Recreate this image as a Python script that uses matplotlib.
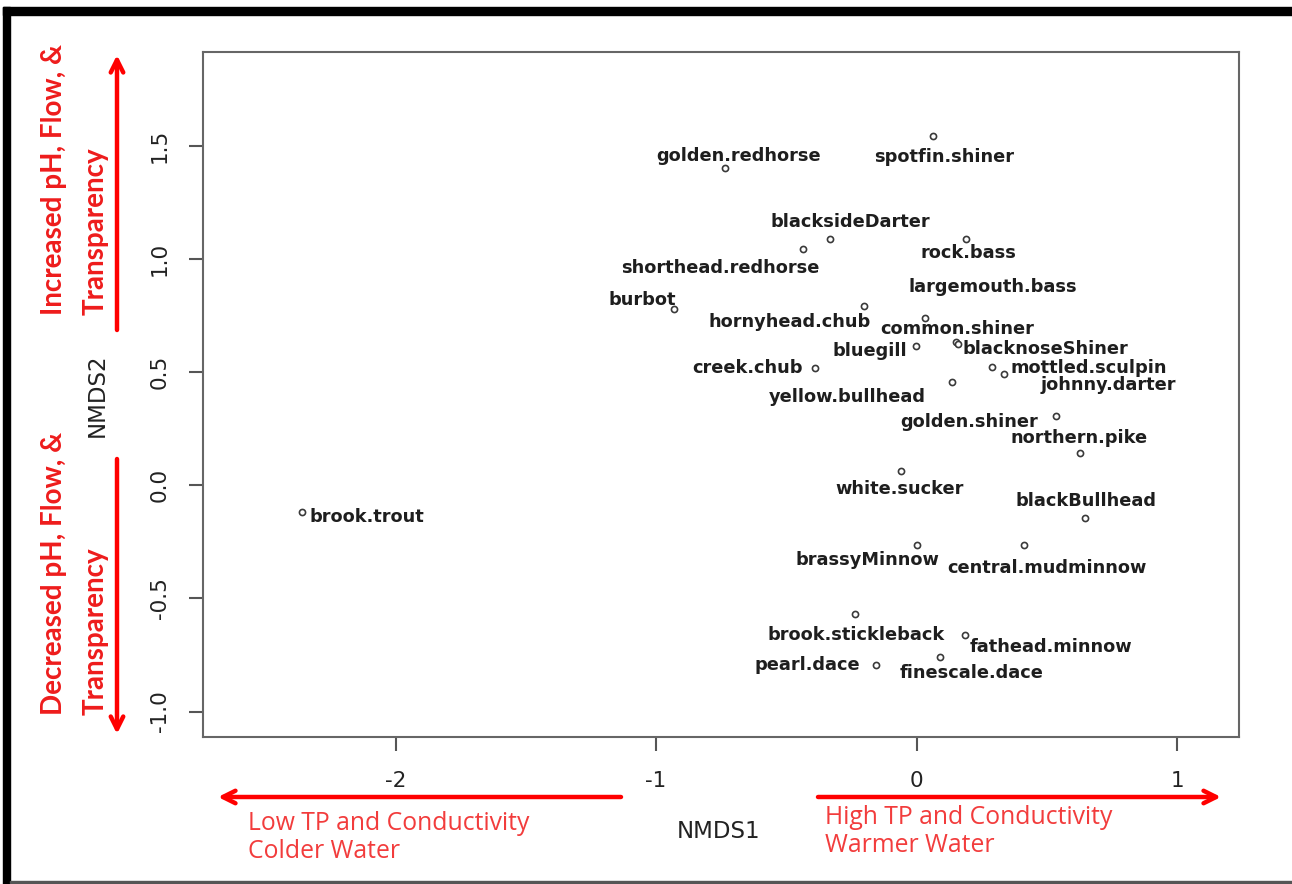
import matplotlib
matplotlib.use("Agg")
import matplotlib.pyplot as plt
from matplotlib.patches import Rectangle

# NMDS species scores
species = [
    "golden.redhorse", "spotfin.shiner", "blacksideDarter", "shorthead.redhorse",
    "rock.bass", "largemouth.bass", "burbot", "hornyhead.chub", "common.shiner",
    "blacknoseShiner", "bluegill", "creek.chub", "mottled.sculpin", "johnny.darter",
    "yellow.bullhead", "golden.shiner", "northern.pike", "white.sucker",
    "blackBullhead", "brassyMinnow", "central.mudminnow", "brook.stickleback",
    "fathead.minnow", "finescale.dace", "pearl.dace", "brook.trout",
]
nmds1 = [-0.735, 0.064, -0.334, -0.437, 0.191, 0.033, -0.932, -0.203, 0.152,
         0.160, -0.002, -0.388, 0.289, 0.335, 0.137, 0.535, 0.628, -0.058,
         0.645, 0.003, 0.413, -0.236, 0.186, 0.089, -0.156, -2.360]
nmds2 = [1.403, 1.546, 1.087, 1.044, 1.087, 0.739, 0.780, 0.794, 0.633,
         0.626, 0.615, 0.520, 0.523, 0.493, 0.456, 0.305, 0.144, 0.062,
         -0.143, -0.264, -0.264, -0.570, -0.663, -0.758, -0.796, -0.118]

x_ticks = [-2, -1, 0, 1]
x_tick_labels = ["-2", "-1", "0", "1"]
y_ticks = [-1.0, -0.5, 0.0, 0.5, 1.0, 1.5]
y_tick_labels = ["-1.0", "-0.5", "0.0", "0.5", "1.0", "1.5"]

# label placement around each point (pixels, y up)
label_offsets = {
    "golden.redhorse": (13, 12), "spotfin.shiner": (11, -21),
    "blacksideDarter": (21, 17), "shorthead.redhorse": (-82, -19),
    "rock.bass": (2, -14), "largemouth.bass": (68, 31), "burbot": (-32, 9),
    "hornyhead.chub": (-74, -16), "common.shiner": (1, 13),
    "blacknoseShiner": (87, -5), "bluegill": (-46, -5), "creek.chub": (-68, 0),
    "mottled.sculpin": (97, -1), "johnny.darter": (105, -11),
    "yellow.bullhead": (-105, -15), "golden.shiner": (-87, -6),
    "northern.pike": (-1, 15), "white.sucker": (-2, -18),
    "blackBullhead": (1, 17), "brassyMinnow": (-50, -15),
    "central.mudminnow": (23, -23), "brook.stickleback": (1, -21),
    "fathead.minnow": (86, -12), "finescale.dace": (32, -16),
    "pearl.dace": (-69, 0), "brook.trout": (65, -5),
}

W, H = 1292, 884
fig = plt.figure(figsize=(W / 100, H / 100), dpi=100)
fig.patch.set_facecolor("white")


def fx(px):
    return px / W


def fy(py):
    return 1 - py / H


# frame around the whole graphic
fig.patches.append(Rectangle((fx(3), fy(15)), 1 - fx(3), 8 / H,
                             transform=fig.transFigure, color="black", zorder=0))
fig.patches.append(Rectangle((fx(3), fy(884)), fx(7), (884 - 7) / H,
                             transform=fig.transFigure, color="black", zorder=0))
fig.patches.append(Rectangle((fx(10), fy(883)), 1 - fx(10), 2 / H,
                             transform=fig.transFigure, color="#555555", zorder=0))

ax = fig.add_axes([fx(203.3), fy(737.3), fx(1238.5) - fx(203.3), fy(52.3) - fy(737.3)])
ax.set_xlim(-2.738, 1.236)
ax.set_ylim(-1.114, 1.914)

for s in ax.spines.values():
    s.set_color("#666666")
    s.set_linewidth(1.5)

ax.set_xticks(x_ticks)
ax.set_xticklabels(x_tick_labels)
ax.set_yticks(y_ticks)
ax.set_yticklabels(y_tick_labels, rotation=90, va="center")
ax.tick_params(axis="both", length=10, width=1.5, color="#555555",
               labelcolor="#222222", labelsize=15.5)
ax.tick_params(axis="x", pad=14)
ax.tick_params(axis="y", pad=14)
for lab in ax.get_xticklabels() + ax.get_yticklabels():
    lab.set_family("DejaVu Sans")

ax.plot(nmds1, nmds2, linestyle="none", marker="o", markersize=4.4,
        markerfacecolor="white", markeredgecolor="#3a3a3a", markeredgewidth=1.2)

for name, x, y in zip(species, nmds1, nmds2):
    dx, dy = label_offsets[name]
    ax.annotate(name, (x, y), xytext=(dx, dy), textcoords="offset pixels",
                ha="center", va="center", fontsize=12.8, fontweight="bold",
                family="DejaVu Sans", color="#1e1e1e")

# axis titles
fig.text(fx(719), fy(832), "NMDS1", ha="center", va="center",
         fontsize=16.5, family="DejaVu Sans", color="#222222")
fig.text(fx(97), fy(395), "NMDS2", ha="center", va="center", rotation=90,
         fontsize=16.5, family="DejaVu Sans", color="#222222")

# gradient annotations
red = "#ff0000"
arrow_kw = dict(arrowstyle="->,head_length=0.9,head_width=0.45", color=red, lw=3.2,
                shrinkA=0, shrinkB=0)
fig.add_artist(plt.Annotation("", xy=(fx(117), fy(55)), xytext=(fx(117), fy(330)),
                              xycoords="figure fraction", arrowprops=arrow_kw))
fig.add_artist(plt.Annotation("", xy=(fx(117), fy(734)), xytext=(fx(117), fy(459)),
                              xycoords="figure fraction", arrowprops=arrow_kw))
fig.add_artist(plt.Annotation("", xy=(fx(218), fy(797)), xytext=(fx(621), fy(797)),
                              xycoords="figure fraction", arrowprops=arrow_kw))
fig.add_artist(plt.Annotation("", xy=(fx(1221), fy(797)), xytext=(fx(818), fy(797)),
                              xycoords="figure fraction", arrowprops=arrow_kw))

side_kw = dict(rotation=90, ha="left", va="center", fontsize=20, fontweight="bold",
               family="Lato", color="#ee1c1c", rotation_mode="anchor")
fig.text(fx(54), fy(315), "Increased pH, Flow, &", **side_kw)
fig.text(fx(96), fy(315), "Transparency", **side_kw)
fig.text(fx(54), fy(715), "Decreased pH, Flow, &", **side_kw)
fig.text(fx(96), fy(715), "Transparency", **side_kw)

bottom_kw = dict(ha="left", va="center", fontsize=17.8, family="Open Sans", color="#f23c3c")
fig.text(fx(248), fy(823), "Low TP and Conductivity", **bottom_kw)
fig.text(fx(248), fy(852), "Colder Water", **bottom_kw)
fig.text(fx(825), fy(817), "High TP and Conductivity", **bottom_kw)
fig.text(fx(825), fy(845), "Warmer Water", **bottom_kw)

fig.savefig("out.png", dpi=100)
